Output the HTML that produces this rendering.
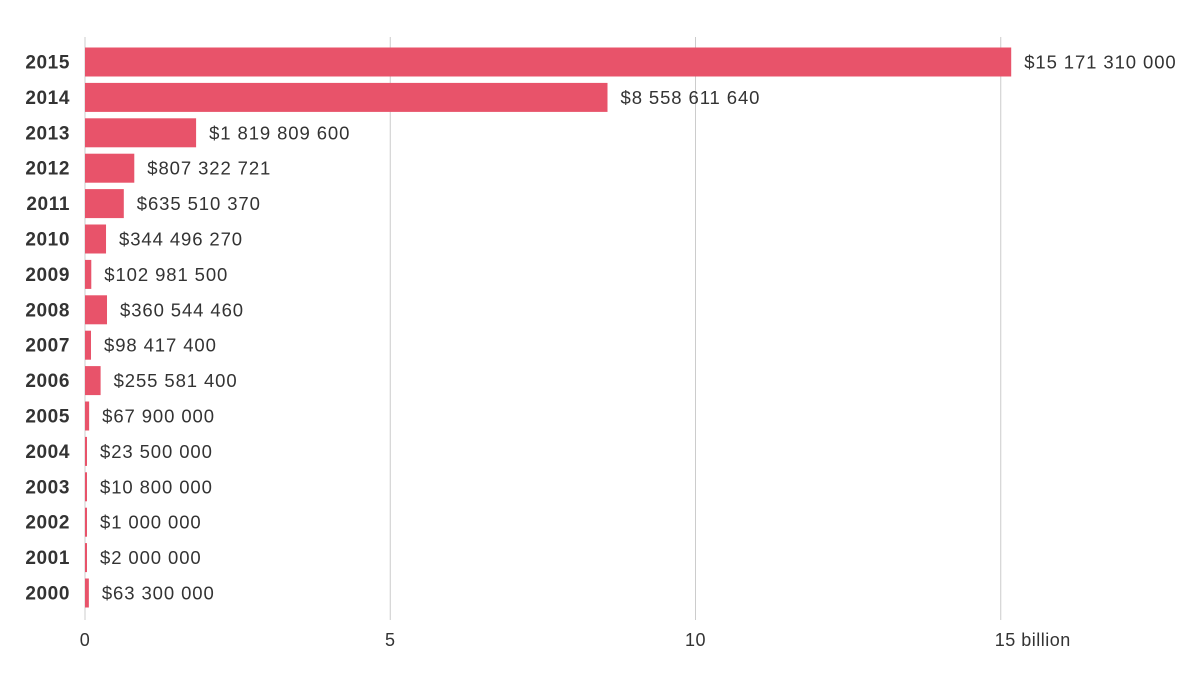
<!DOCTYPE html>
<html><head><meta charset="utf-8"><style>
body{margin:0;background:#fff;font-family:"Liberation Sans",sans-serif;}
svg text{font-family:"Liberation Sans",sans-serif;}
</style></head><body>
<svg id="chart" width="1200" height="674" viewBox="0 0 1200 674"></svg>
<script>
const years=["2015","2014","2013","2012","2011","2010","2009","2008","2007","2006","2005","2004","2003","2002","2001","2000"];
const values=[15171310000,8558611640,1819809600,807322721,635510370,344496270,102981500,360544460,98417400,255581400,67900000,23500000,10800000,1000000,2000000,63300000];
const tickValues=[0,5,10,15];
const tickLabels=["0","5","10","15 billion"];
const NS="http://www.w3.org/2000/svg";
const svg=document.getElementById('chart');
const x0=85,pxPerB=61.05;
const xs=v=>x0+v/1e9*pxPerB;
const yc=i=>62+i*35.4;
function mk(t,a){const e=document.createElementNS(NS,t);for(const k in a)e.setAttribute(k,a[k]);svg.appendChild(e);return e;}
tickValues.forEach((t,i)=>{
  const g=mk('line',{x1:xs(t*1e9),x2:xs(t*1e9),y1:37,y2:620,stroke:'#cccccc','stroke-width':1});
  
  
  const tx=mk('text',{x:xs(t*1e9),y:646,'font-size':18,fill:'#333','text-anchor':i==3?'start':'middle','letter-spacing':0.5});
  if(i==3)tx.setAttribute('x',xs(t*1e9)-6);
  tx.textContent=tickLabels[i];
  
  
});
function fmt(v){return '$'+String(v).replace(/\B(?=(\d{3})+(?!\d))/g,' ');}
years.forEach((yr,i)=>{
  const y=yc(i);
  const w=Math.max(2,xs(values[i])-x0);
  const r=mk('rect',{x:x0,y:y-14.5,width:w,height:29,fill:'#e8536a'});
  
  
  const yl=mk('text',{x:70,y:y+6.5,'font-size':19,'font-weight':'bold',fill:'#333','text-anchor':'end','letter-spacing':0.6});
  yl.textContent=yr;
  
  
  const vl=mk('text',{x:x0+w+13,y:y+6.5,'font-size':18.5,fill:'#333','letter-spacing':0.9});
  vl.textContent=fmt(values[i]);
  
  
});
</script>
</body></html>
